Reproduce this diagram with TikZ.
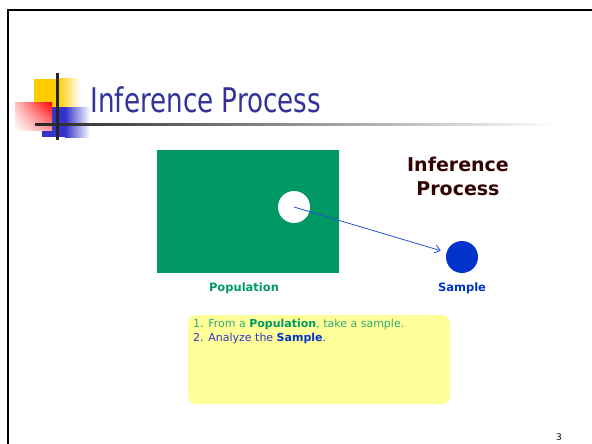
\documentclass[tikz,border=0pt]{standalone}
\usepackage{fontspec}
\setmainfont{DejaVu Sans}
\newfontfamily\titlefont[FakeStretch=0.77]{DejaVu Sans}
\usetikzlibrary{arrows.meta,positioning,shapes,shadings}
\definecolor{popgreen}{HTML}{009966}
\definecolor{txtgreen}{HTML}{33AA77}
\definecolor{sampblue}{HTML}{0033CC}
\definecolor{titleblue}{HTML}{333399}
\definecolor{logoyellow}{HTML}{FFCC00}
\definecolor{logoblue}{HTML}{3333CC}
\definecolor{maroon}{HTML}{330000}
\definecolor{notefill}{HTML}{FFFF99}
\tikzset{
	popbox/.style={rectangle,fill=popgreen,inner sep=0,minimum width=182,minimum height=123},
	vert/.style={circle,inner sep=0,minimum size=32},
	label/.style={font=\fontsize{11.5}{13}\selectfont\bfseries, text centered},
	notebox/.style={rectangle,rounded corners=8,fill=notefill,inner sep=0,minimum width=262,minimum height=89},
	diredge/.style={-{Straight Barb[width=8pt,length=5pt]},color=sampblue!85!white, line width=0.8}
}

\begin{document}
\begin{tikzpicture}[x=1pt,y=-1pt]
		\useasboundingbox (0,0) rectangle (592,444);
		\fill [white] (0,0) rectangle (592,444);
		% frame
		\draw [line width=2.6] (8,444) -- (8,10) -- (593,10);
		
		% logo
		\fill [logoyellow] (34,79) rectangle (58,107);
		\shade [left color=logoyellow, right color=white] (58,79) rectangle (80,107);
		\fill [logoblue] (42,107) rectangle (65,137);
		\shade [left color=logoblue, right color=white] (65,107) rectangle (90,137);
		\shade [upper right=red, upper left=red!25, lower right=red!40, lower left=white] (15,102) rectangle (52,130);
		\shade [left color=black!85, right color=white] (35,123) rectangle (560,125.5);
		\fill [black!85] (56.3,73) rectangle (58.8,140);
		
		\node [anchor=base west, text=titleblue, font=\titlefont\fontsize{34}{36}\selectfont] (10) at (87,113) {Inference Process};
		
		\node [popbox] (0) at (248,211.5) {};
		\node [vert, fill=white] (1) at (294,207) {};
		\node [vert, fill=sampblue] (2) at (462,257) {};
		\node [label, text=popgreen] (3) at (244,288) {Population};
		\node [label, text=sampblue] (4) at (462,288) {Sample};
		\node [align=center, text=maroon, font=\fontsize{19}{24}\selectfont\bfseries] (5) at (458,176) {Inference\\Process};
		
		\node [notebox] (6) at (319,359.5) {};
		\node [anchor=north west, align=left, inner sep=0, font=\fontsize{11}{14}\selectfont] (7) at (193,319) {\textcolor{txtgreen}{1. From a \textbf{\textcolor{popgreen}{Population}}, take a sample.}\\\textcolor{logoblue}{2. Analyze the \textbf{\textcolor{sampblue}{Sample}}.}};
		
		\node [font=\fontsize{9}{10}\selectfont] (8) at (559,437) {3};
		
		\draw [diredge, shorten >=6] (1.center) to (2);
		
	\end{tikzpicture}
\end{document}
